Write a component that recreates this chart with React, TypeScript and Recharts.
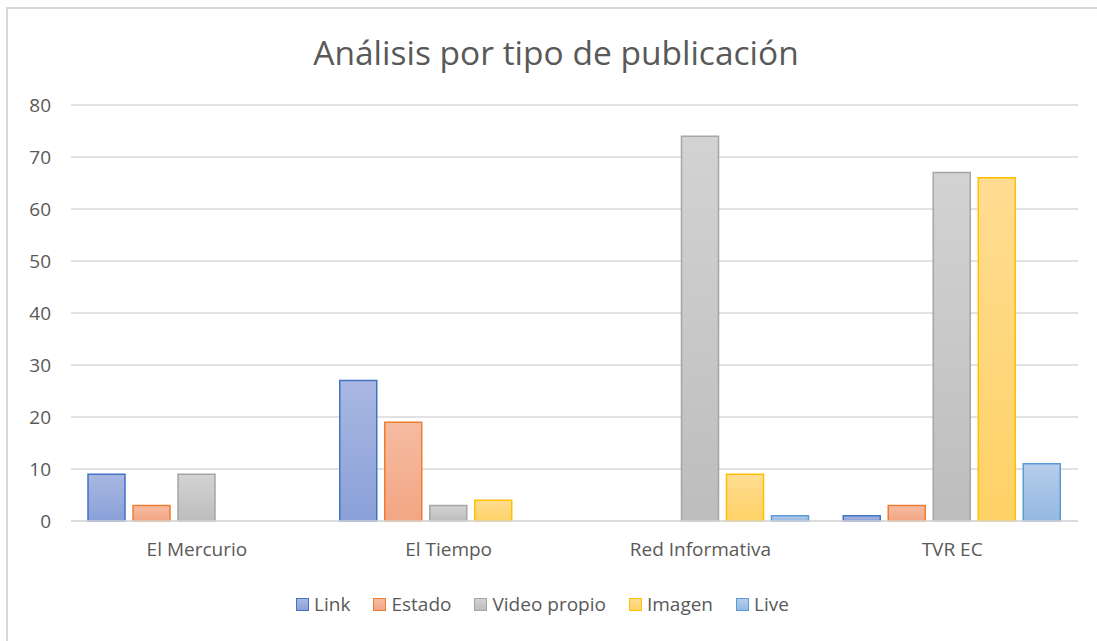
import React from "react";
import { BarChart, Bar, XAxis, YAxis, CartesianGrid } from "recharts";

const categories = ["El Mercurio", "El Tiempo", "Red Informativa", "TVR EC"];
const link = [9, 27, 0, 1];
const estado = [3, 19, 0, 3];
const videoPropio = [9, 3, 74, 67];
const imagen = [0, 4, 9, 66];
const live = [0, 0, 1, 11];
const yTicks = [0, 10, 20, 30, 40, 50, 60, 70, 80];

const data = categories.map((c, i) => ({
  name: c,
  link: link[i],
  estado: estado[i],
  video: videoPropio[i],
  imagen: imagen[i],
  live: live[i],
}));

const series = [
  { key: "link", label: "Link", stroke: "#4472c4", top: "#a9b8e2", bottom: "#8aa0d8" },
  { key: "estado", label: "Estado", stroke: "#ed7d31", top: "#f6bba1", bottom: "#f2a684" },
  { key: "video", label: "Video propio", stroke: "#a5a5a5", top: "#d3d3d3", bottom: "#bdbdbd" },
  { key: "imagen", label: "Imagen", stroke: "#ffc000", top: "#ffdc92", bottom: "#ffd266" },
  { key: "live", label: "Live", stroke: "#5b9bd5", top: "#b6cdea", bottom: "#93b8e1" },
];

const FONT = "'Open Sans', sans-serif";
const TEXT = "#595959";

export default function App() {
  return (
    <div style={{ position: "absolute", left: 0, top: 0, width: 1097, height: 641, background: "#fff", overflow: "hidden" }}>
      <div
        style={{
          position: "absolute",
          left: 6,
          top: 7,
          width: 1120,
          height: 660,
          border: "2px solid #d9d9d9",
          boxSizing: "border-box",
        }}
      />
      <div
        style={{
          position: "absolute",
          left: 0,
          width: 1112,
          top: 30,
          textAlign: "center",
          fontFamily: FONT,
          fontSize: 33.5,
          color: TEXT,
          lineHeight: "44px",
        }}
      >
        Análisis por tipo de publicación
      </div>
      <div style={{ position: "absolute", left: 0, top: 0 }}>
        <BarChart
          width={1097}
          height={641}
          data={data}
          margin={{ top: 105, right: 19, bottom: 60, left: 11 }}
          barCategoryGap={17}
          barGap={8}
        >
          <defs>
            {series.map((s) => (
              <linearGradient key={s.key} id={`g-${s.key}`} x1="0" y1="0" x2="0" y2="1">
                <stop offset="0%" stopColor={s.top} />
                <stop offset="100%" stopColor={s.bottom} />
              </linearGradient>
            ))}
          </defs>
          <CartesianGrid vertical={false} stroke="#d9d9d9" strokeWidth={1.3} />
          <XAxis
            dataKey="name"
            axisLine={{ stroke: "#d9d9d9", strokeWidth: 1.3 }}
            tickLine={false}
            tick={{ fill: TEXT, fontSize: 19, fontFamily: FONT }}
            tickMargin={16}
            height={60}
          />
          <YAxis
            domain={[0, 80]}
            ticks={yTicks}
            width={60}
            axisLine={false}
            tickLine={false}
            tick={{ fill: TEXT, fontSize: 19, fontFamily: FONT }}
            tickMargin={14}
            interval={0}
          />
          {series.map((s) => (
            <Bar
              key={s.key}
              dataKey={s.key}
              name={s.label}
              fill={`url(#g-${s.key})`}
              stroke={s.stroke}
              strokeWidth={1.5}
              isAnimationActive={false}
            />
          ))}
        </BarChart>
      </div>
      <div
        style={{
          position: "absolute",
          left: 0,
          width: 1085,
          top: 590,
          display: "flex",
          justifyContent: "center",
          gap: 23,
          fontFamily: FONT,
          fontSize: 19,
          color: TEXT,
          lineHeight: "28px",
        }}
      >
        {series.map((s) => (
          <div key={s.key} style={{ display: "flex", alignItems: "center" }}>
            <span
              style={{
                display: "inline-block",
                width: 11,
                height: 11,
                border: `1.5px solid ${s.stroke}`,
                background: `linear-gradient(${s.top}, ${s.bottom})`,
                marginRight: 5,
              }}
            />
            <span>{s.label}</span>
          </div>
        ))}
      </div>
    </div>
  );
}
